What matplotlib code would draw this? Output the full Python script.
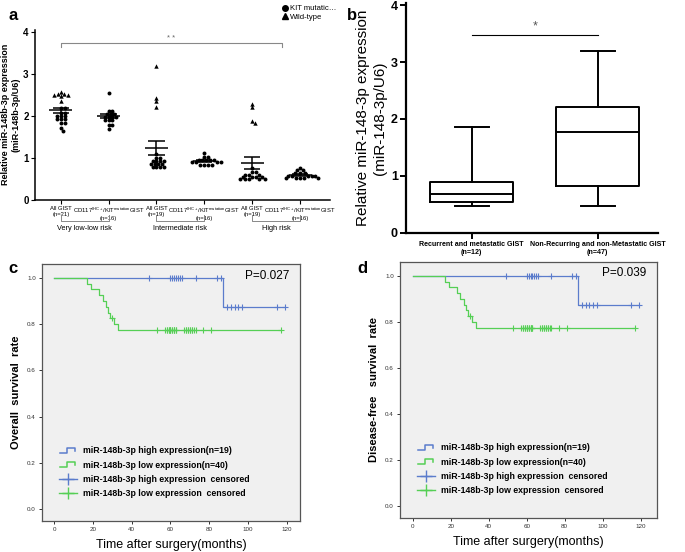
import numpy as np
import matplotlib.pyplot as plt
from matplotlib.lines import Line2D
from matplotlib.legend_handler import HandlerBase

plt.rcParams['font.family'] = ['Liberation Sans', 'DejaVu Sans']
plt.rcParams['mathtext.default'] = 'regular'

# ---- panel a: miR-148b-3p expression per risk group ----
a_labels = ['All GIST\n(n=21)', 'CD117$^{IHC+}$/KIT$^{mutation}$GIST\n(n=16)',
            'All GIST\n(n=19)', 'CD117$^{IHC+}$/KIT$^{mutation}$GIST\n(n=16)',
            'All GIST\n(n=19)', 'CD117$^{IHC+}$/KIT$^{mutation}$GIST\n(n=16)']
risk_groups = ['Very low-low risk', 'Intermediate risk', 'High risk']

# circles = KIT mutation, triangles = wild-type
kit_mut = [
    [2.18, 2.18, 2.08, 2.08, 2.0, 2.0, 2.0, 1.92, 1.92, 1.92, 1.82, 1.82, 1.72, 1.65],
    [2.55, 2.12, 2.12, 2.05, 2.05, 2.05, 1.98, 1.98, 1.98, 1.98, 1.9, 1.9, 1.9, 1.78, 1.78, 1.68],
    [1.1, 1.0, 1.0, 0.92, 0.92, 0.92, 0.92, 0.85, 0.85, 0.85, 0.85, 0.78, 0.78, 0.78, 0.78],
    [1.12, 1.02, 1.02, 0.95, 0.95, 0.95, 0.95, 0.95, 0.9, 0.9, 0.9, 0.9, 0.83, 0.83, 0.83, 0.83],
    [0.75, 0.66, 0.66, 0.6, 0.6, 0.6, 0.55, 0.55, 0.55, 0.55, 0.5, 0.5, 0.5, 0.5, 0.5],
    [0.76, 0.7, 0.7, 0.63, 0.63, 0.63, 0.57, 0.57, 0.57, 0.57, 0.57, 0.51, 0.51, 0.51, 0.51, 0.51],
]
wild_type = [
    [2.57, 2.52, 2.5, 2.5, 2.48, 2.52, 2.35],
    [],
    [3.18, 2.43, 2.35, 2.2],
    [],
    [2.28, 2.2, 1.87, 1.83],
    [],
]

# ---- panel b: box plot summary ----
b_labels = ['Recurrent and metastatic GIST\n(n=12)', 'Non-Recurring and non-Metastatic GIST\n(n=47)']
b_whislo = [0.48, 0.47]
b_q1 = [0.54, 0.82]
b_med = [0.69, 1.77]
b_q3 = [0.89, 2.21]
b_whishi = [1.86, 3.19]

# ---- panels c/d: follow-up times (months), 1 = event, 0 = censored ----
high_time = [49, 60, 61, 62, 63, 64, 65, 66, 73, 84, 86, 87, 89, 91, 93, 95, 97, 115, 119]
high_event = [0] * 11 + [1] + [0] * 7
low_time = [17, 19, 23, 25, 27, 28, 29, 30, 31, 33,
            53, 57, 58, 58, 59, 59, 60, 60, 60, 61, 61, 62, 62, 62, 63, 63,
            67, 68, 68, 69, 69, 70, 70, 71, 71, 72, 73, 77, 81, 117]
low_event = [1] * 7 + [0] + [1, 1] + [0] * 30
p_values = ['P=0.027', 'P=0.039']
surv_ylabels = ['Overall  survival  rate', 'Disease-free   survival  rate']
legend_labels = ['miR-148b-3p high expression(n=19)', 'miR-148b-3p low expression(n=40)',
                 'miR-148b-3p high expression  censored', 'miR-148b-3p low expression  censored']

BLUE = '#5b7ccc'
GREEN = '#55cf55'


def swarm(vals, xscale=47.8, yscale=42.0, d=3.2):
    # simple beeswarm offsets (pixel-ish units -> data units)
    placed = []
    offs = []
    step = d * 0.3
    for v in vals:
        y = v * yscale
        k = 0
        while True:
            cands = [0.0] if k == 0 else [k * step, -k * step]
            ok = None
            for x in cands:
                if all((x - px) ** 2 + (y - py) ** 2 >= d * d for px, py in placed):
                    ok = x
                    break
            if ok is not None:
                placed.append((ok, y))
                offs.append(ok / xscale)
                break
            k += 1
    return offs


def km(times, events):
    t = np.array(times, float)
    e = np.array(events)
    order = np.lexsort((1 - e, t))
    t, e = t[order], e[order]
    s = 1.0
    xs, ys = [0.0], [1.0]
    cx, cy = [], []
    at_risk = len(t)
    for ti, ei in zip(t, e):
        if ei:
            s *= (at_risk - 1) / at_risk
            xs.append(ti)
            ys.append(s)
        else:
            cx.append(ti)
            cy.append(s)
        at_risk -= 1
    xs.append(t.max())
    ys.append(s)
    return xs, ys, cx, cy


class StepHandler(HandlerBase):
    def create_artists(self, legend, orig_handle, xdescent, ydescent, width, height, fontsize, trans):
        xs = np.array([0.05, 0.45, 0.45, 0.9, 0.9]) * width - xdescent
        ys = np.array([0.1, 0.1, 0.85, 0.85, 0.4]) * height - ydescent
        ln = Line2D(xs, ys, color=orig_handle.get_color(), lw=1.1)
        ln.set_transform(trans)
        return [ln]


fig = plt.figure(figsize=(6.85, 5.52), dpi=100)

# ================= panel a =================
ax = fig.add_axes([0.051, 0.638, 0.431, 0.308])
pos = np.arange(1, 7)
for i in range(6):
    allv = kit_mut[i] + wild_type[i]
    flags = [0] * len(kit_mut[i]) + [1] * len(wild_type[i])
    order = np.argsort(allv, kind='stable')[::-1]
    sv = np.array([allv[j] for j in order])
    sf = np.array([flags[j] for j in order])
    xs = np.array(swarm(sv)) + pos[i]
    ax.scatter(xs[sf == 0], sv[sf == 0], s=8, marker='o', color='black', lw=0, zorder=3)
    ax.scatter(xs[sf == 1], sv[sf == 1], s=10, marker='^', color='black', lw=0, zorder=3)
    m = np.mean(allv)
    sem = np.std(allv, ddof=1) / np.sqrt(len(allv))
    ax.hlines(m, pos[i] - 0.24, pos[i] + 0.24, color='black', lw=1.1, zorder=4)
    ax.hlines([m - sem, m + sem], pos[i] - 0.17, pos[i] + 0.17, color='black', lw=1.1, zorder=4)
    ax.vlines(pos[i], m - sem, m + sem, color='black', lw=1.1, zorder=4)

ax.set_xlim(0.46, 6.63)
ax.set_ylim(0, 4.05)
ax.set_yticks([0, 1, 2, 3, 4])
ax.set_yticklabels(['0', '1', '2', '3', '4'], fontsize=7, fontweight='bold')
ax.set_xticks(pos)
ax.set_xticklabels(a_labels, fontsize=4.2)
ax.tick_params(axis='x', length=3, pad=1.5)
ax.tick_params(axis='y', length=3, pad=1.5)
for sp in ['top', 'right']:
    ax.spines[sp].set_visible(False)
for sp in ['left', 'bottom']:
    ax.spines[sp].set_linewidth(1.1)
ax.set_ylabel('Relative miR-148b-3p expression\n(miR-148b-3p/U6)', fontsize=6.5,
              fontweight='bold', labelpad=2)

# significance bracket
ax.plot([1, 1, 5.62, 5.62], [3.65, 3.73, 3.73, 3.65], color='#888888', lw=0.8)
ax.text(3.31, 3.77, '* *', ha='center', va='bottom', fontsize=5.5, color='#666666')

# risk group brackets below x axis
tr = ax.get_xaxis_transform()
for g in range(3):
    x0, x1 = pos[2 * g], pos[2 * g + 1]
    ax.plot([x0, x0, x1, x1], [-0.088, -0.124, -0.124, -0.088], color='#888888', lw=0.7,
            transform=tr, clip_on=False)
    ax.text((x0 + x1) / 2, -0.168, risk_groups[g], ha='center', va='center', fontsize=5.3,
            transform=tr)

leg_h = [Line2D([], [], marker='o', ls='none', color='black', markersize=4),
         Line2D([], [], marker='^', ls='none', color='black', markersize=4)]
ax.legend(leg_h, ['KIT mutatic…', 'Wild-type'], loc='center left', bbox_to_anchor=(0.82, 1.1),
          frameon=False, fontsize=5.5, handletextpad=0.2, labelspacing=0.15, borderpad=0,
          handlelength=1.0)
fig.text(0.012, 0.972, 'a', fontsize=12, fontweight='bold', va='center')

# ================= panel b =================
bx = fig.add_axes([0.593, 0.578, 0.368, 0.417])
stats = [dict(whislo=b_whislo[i], q1=b_q1[i], med=b_med[i], q3=b_q3[i], whishi=b_whishi[i])
         for i in range(2)]
lp = dict(color='black', lw=1.4)
bx.bxp(stats, positions=[1, 2], widths=0.66, capwidths=[0.27, 0.27], showfliers=False,
       boxprops=lp, whiskerprops=lp, capprops=lp, medianprops=lp)
bx.set_xlim(0.48, 2.48)
bx.set_ylim(0, 4.04)
bx.set_yticks([0, 1, 2, 3, 4])
bx.set_yticklabels(['0', '1', '2', '3', '4'], fontsize=9, fontweight='bold')
bx.set_xticks([1, 2])
bx.set_xticklabels(b_labels, fontsize=5.1, fontweight='bold')
bx.tick_params(width=1.4, length=4, pad=2)
for sp in ['top', 'right']:
    bx.spines[sp].set_visible(False)
for sp in ['left', 'bottom']:
    bx.spines[sp].set_linewidth(1.6)
bx.set_ylabel('Relative miR-148-3p expression\n(miR-148-3p/U6)', fontsize=11, labelpad=3)
bx.plot([1, 2], [3.47, 3.47], color='black', lw=0.8)
bx.text(1.5, 3.52, '*', ha='center', va='bottom', fontsize=9, color='#555555')
fig.text(0.507, 0.972, 'b', fontsize=12, fontweight='bold', va='center')

# ================= panels c and d =================
rects = [[0.0613, 0.0562, 0.3766, 0.4656], [0.584, 0.0616, 0.375, 0.4638]]
xlims = [(-6.2, 126.7), (-6.8, 128.6)]
for k in range(2):
    cx = fig.add_axes(rects[k])
    cx.set_facecolor('#f0f0f0')
    for tt, ee, col in [(high_time, high_event, BLUE), (low_time, low_event, GREEN)]:
        xs, ys, cxs, cys = km(tt, ee)
        cx.step(xs, ys, where='post', color=col, lw=0.9)
        cx.plot(cxs, cys, ls='none', marker='+', color=col, markersize=4, mew=0.8)
    cx.set_xlim(*xlims[k])
    cx.set_ylim(-0.052, 1.06)
    cx.set_xticks([0, 20, 40, 60, 80, 100, 120])
    cx.set_yticks([0.0, 0.2, 0.4, 0.6, 0.8, 1.0])
    cx.set_yticklabels(['0.0', '0.2', '0.4', '0.6', '0.8', '1.0'])
    cx.tick_params(labelsize=4.5, length=2.5, width=0.7, pad=2, colors='#333333')
    for sp in cx.spines.values():
        sp.set_color('#555555')
        sp.set_linewidth(0.9)
    cx.set_xlabel('Time after surgery(months)', fontsize=9, labelpad=5)
    cx.set_ylabel(surv_ylabels[k], fontsize=8, fontweight='bold', labelpad=4)
    cx.text(0.96, 0.955, p_values[k], transform=cx.transAxes, ha='right', va='center', fontsize=8.5)

    h1 = Line2D([], [], color=BLUE)
    h2 = Line2D([], [], color=GREEN)
    h3 = Line2D([], [], color=BLUE, marker='+', markersize=8, lw=1.0)
    h4 = Line2D([], [], color=GREEN, marker='+', markersize=8, lw=1.0)
    cx.legend([h1, h2, h3, h4], legend_labels, loc='lower left', bbox_to_anchor=(0.05, 0.072),
              frameon=False, prop=dict(size=6.3, weight='bold'), handlelength=2.0,
              handletextpad=0.7, labelspacing=0.6, borderpad=0,
              handler_map={h1: StepHandler(), h2: StepHandler()})

fig.text(0.012, 0.513, 'c', fontsize=12, fontweight='bold', va='center')
fig.text(0.522, 0.513, 'd', fontsize=12, fontweight='bold', va='center')

fig.savefig('out.png', dpi=100)
